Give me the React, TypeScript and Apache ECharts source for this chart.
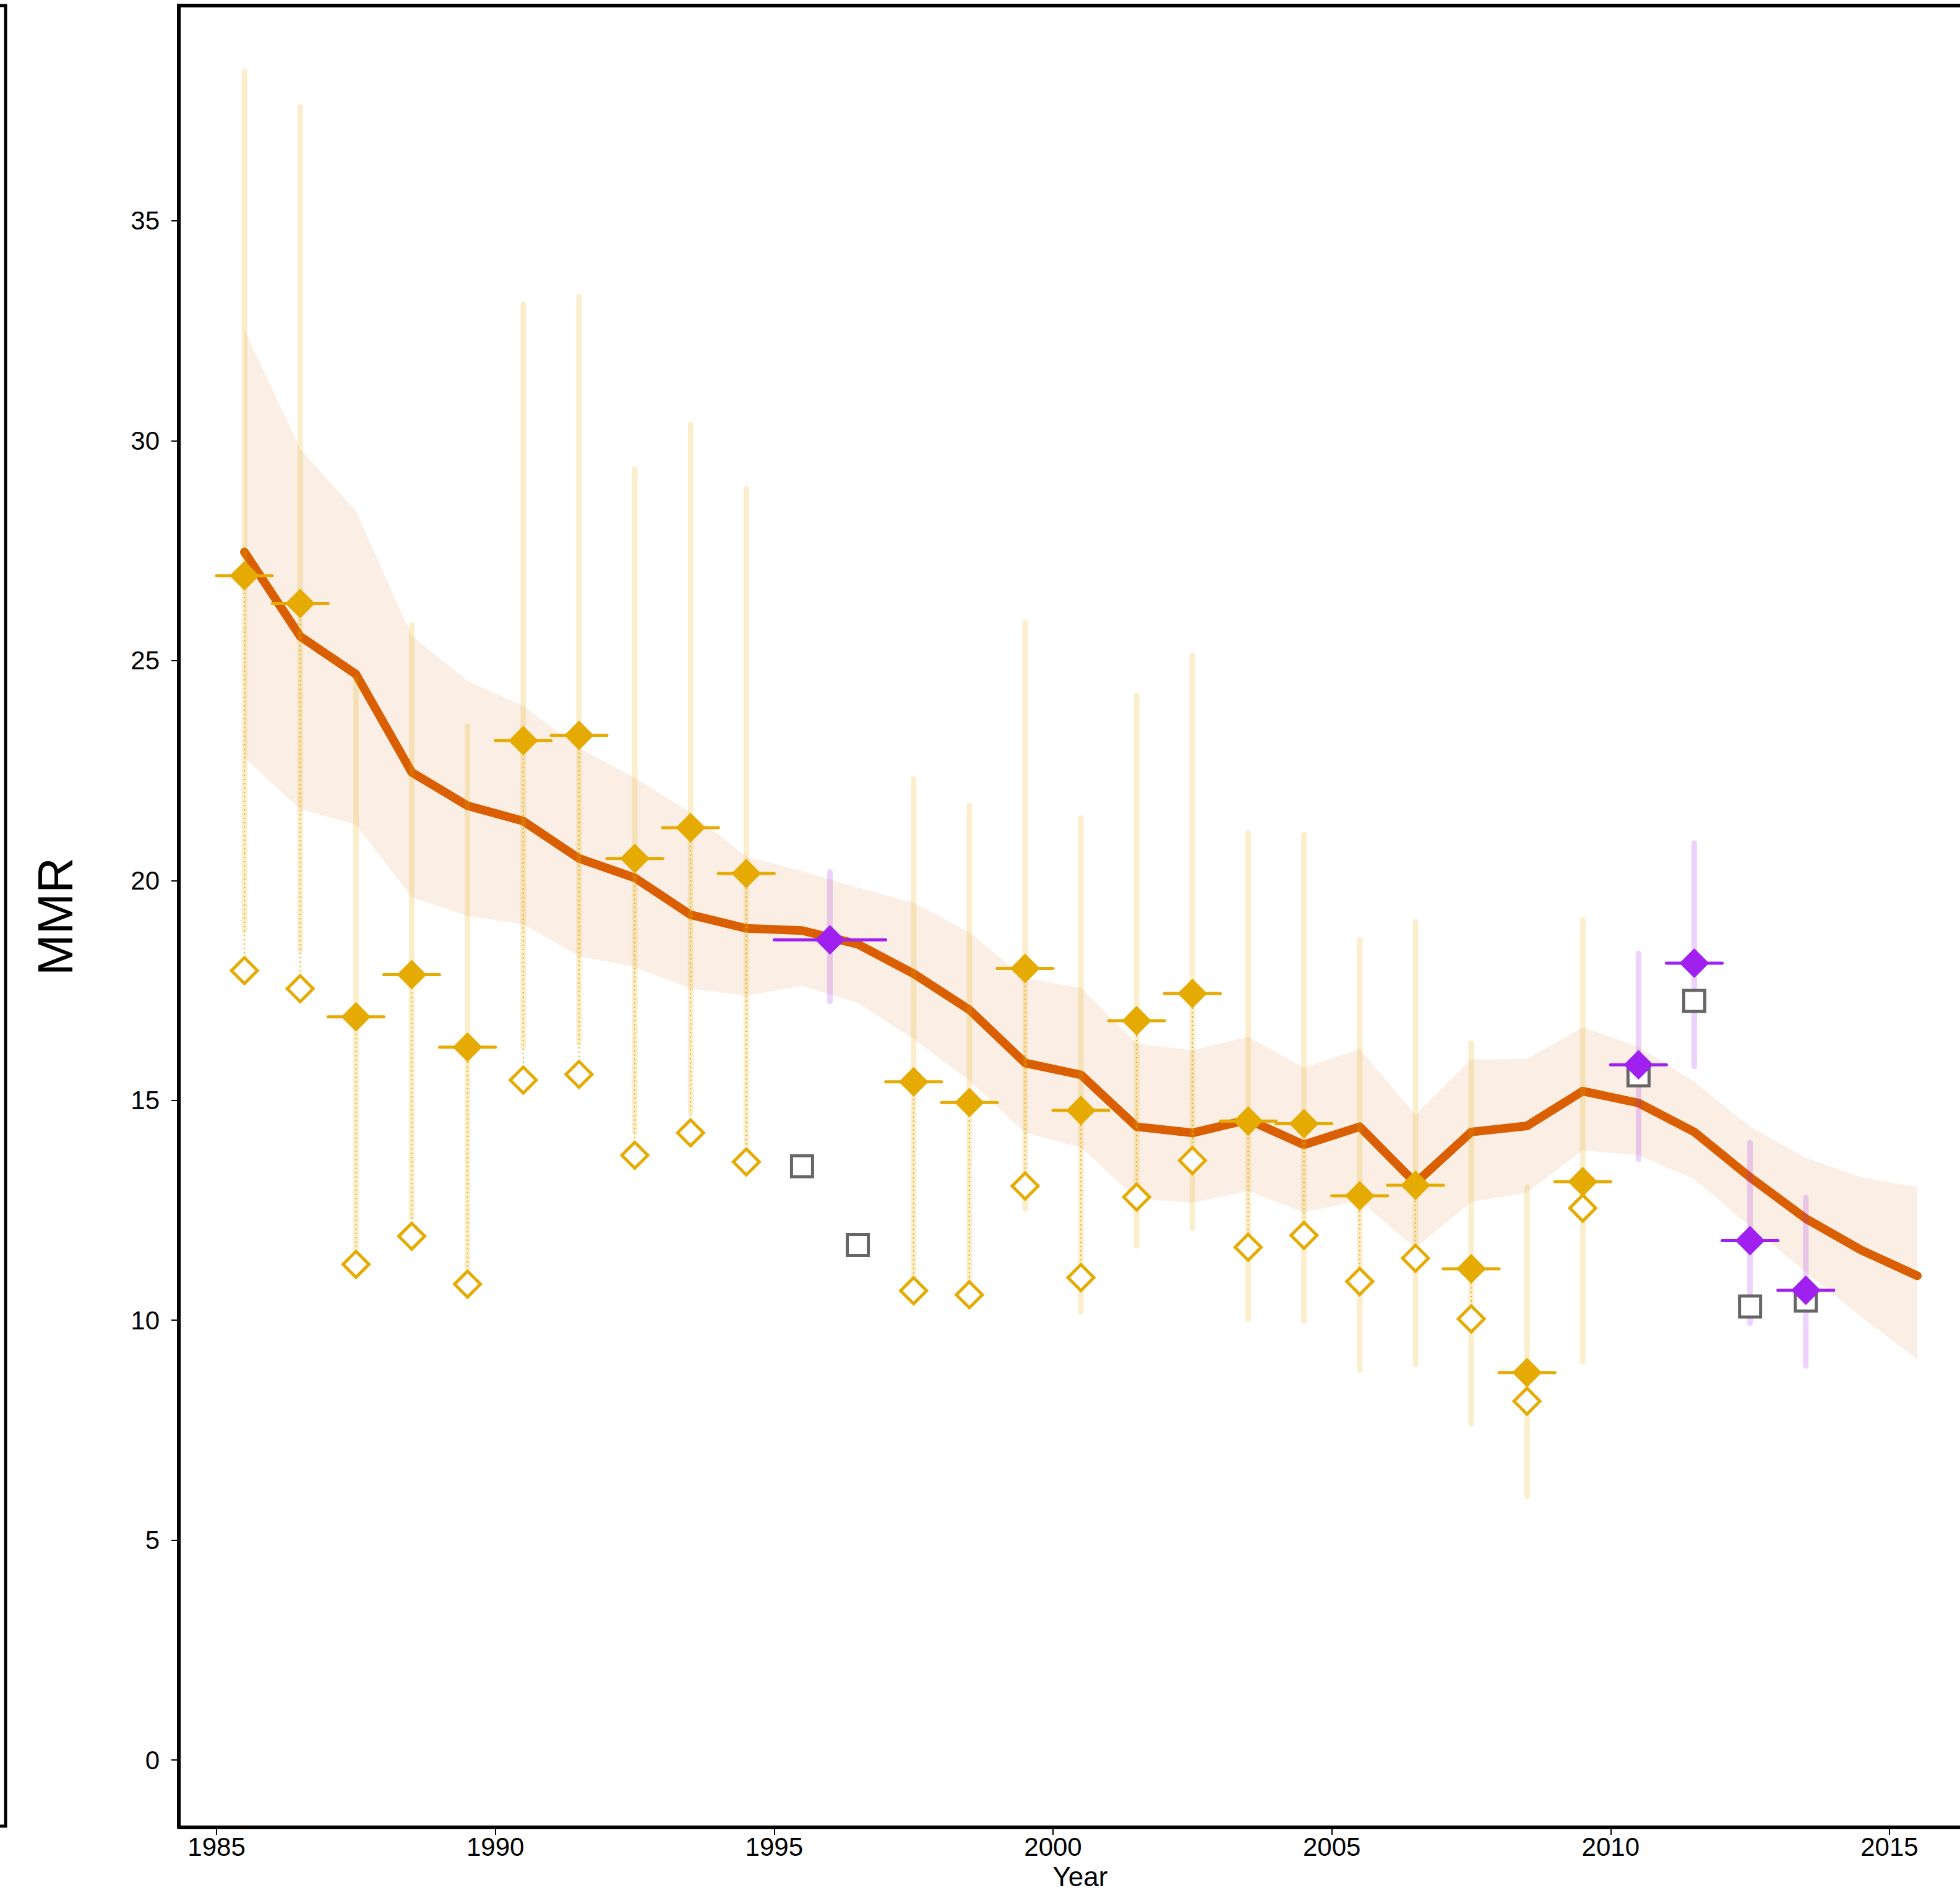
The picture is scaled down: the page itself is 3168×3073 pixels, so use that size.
import React, { useEffect, useRef } from "react";
import * as echarts from "echarts";

// ---------- data ----------
const xTickValues = [1985, 1990, 1995, 2000, 2005, 2010, 2015];
const yTickValues = [0, 5, 10, 15, 20, 25, 30, 35];

// model trend (median) and its uncertainty band
const trendYears = [
  1985.5, 1986.5, 1987.5, 1988.5, 1989.5, 1990.5, 1991.5, 1992.5, 1993.5, 1994.5,
  1995.5, 1996.5, 1997.5, 1998.5, 1999.5, 2000.5, 2001.5, 2002.5, 2003.5, 2004.5,
  2005.5, 2006.5, 2007.5, 2008.5, 2009.5, 2010.5, 2011.5, 2012.5, 2013.5, 2014.5, 2015.5,
];
const trendValues = [
  27.47, 25.55, 24.69, 22.46, 21.7, 21.35, 20.5, 20.06, 19.22, 18.91,
  18.86, 18.55, 17.88, 17.06, 15.85, 15.58, 14.4, 14.26, 14.56, 13.99,
  14.4, 13.12, 14.28, 14.42, 15.21, 14.94, 14.28, 13.25, 12.31, 11.59, 11.01,
];
const bandUpper = [
  32.52, 29.81, 28.4, 25.57, 24.54, 23.97, 23.01, 22.34, 21.54, 20.55,
  20.21, 19.84, 19.49, 18.82, 17.78, 17.56, 16.29, 16.14, 16.45, 15.74,
  16.17, 14.67, 15.93, 15.94, 16.66, 16.22, 15.42, 14.4, 13.69, 13.25, 13.03,
];
const bandLower = [
  22.79, 21.62, 21.27, 19.62, 19.19, 19.0, 18.28, 18.03, 17.54, 17.38,
  17.6, 17.22, 16.39, 15.45, 14.26, 13.93, 12.76, 12.67, 12.94, 12.45,
  12.72, 11.64, 12.69, 12.9, 13.86, 13.75, 13.21, 12.13, 11.1, 10.07, 9.11,
];

// gold observations (adjusted = filled diamond, observed = open diamond)
const goldYears = [
  1985.5, 1986.5, 1987.5, 1988.5, 1989.5, 1990.5, 1991.5, 1992.5, 1993.5, 1994.5,
  1997.5, 1998.5, 1999.5, 2000.5, 2001.5, 2002.5, 2003.5, 2004.5, 2005.5, 2006.5,
  2007.5, 2008.5, 2009.5,
];
const goldPeriodStart = [
  1985, 1986, 1987, 1988, 1989, 1990, 1991, 1992, 1993, 1994,
  1997, 1998, 1999, 2000, 2001, 2002, 2003, 2004, 2005, 2006,
  2007, 2008, 2009,
];
const goldPeriodEnd = [
  1986, 1987, 1988, 1989, 1990, 1991, 1992, 1993, 1994, 1995,
  1998, 1999, 2000, 2001, 2002, 2003, 2004, 2005, 2006, 2007,
  2008, 2009, 2010,
];
const goldAdjusted = [
  26.93, 26.3, 16.9, 17.86, 16.21, 23.18, 23.3, 20.5, 21.2, 20.16,
  15.42, 14.95, 18.0, 14.77, 16.81, 17.43, 14.53, 14.47, 12.83, 13.07,
  11.17, 8.81, 13.15,
];
const goldObserved = [
  17.95, 17.54, 11.27, 11.91, 10.82, 15.46, 15.59, 13.75, 14.26, 13.6,
  10.67, 10.58, 13.05, 10.97, 12.8, 13.63, 11.66, 11.93, 10.88, 11.41,
  10.03, 8.16, 12.55,
];
const goldUpper = [
  38.4, 37.6, 24.6, 25.81, 23.51, 33.1, 33.27, 29.36, 30.37, 28.91,
  22.31, 21.7, 25.86, 21.42, 24.21, 25.12, 21.08, 21.04, 18.64, 19.06,
  16.3, 13.03, 19.1,
];
const goldLower = [
  18.86, 18.41, 11.64, 12.34, 11.19, 16.22, 16.3, 14.28, 14.73, 14.02,
  10.95, 10.85, 12.53, 10.2, 11.69, 12.09, 10.03, 9.98, 8.86, 8.99,
  7.65, 5.99, 9.06,
];

// purple observations
const purpleYears = [1996, 2010.5, 2011.5, 2012.5, 2013.5];
const purplePeriodStart = [1995, 2010, 2011, 2012, 2013];
const purplePeriodEnd = [1997, 2011, 2012, 2013, 2014];
const purpleValues = [18.65, 15.81, 18.12, 11.81, 10.68];
const purpleUpper = [20.19, 18.34, 20.85, 14.04, 12.79];
const purpleLower = [17.25, 13.66, 15.77, 9.93, 8.96];

// grey squares
const greyYears = [1995.5, 1996.5, 2010.5, 2011.5, 2012.5, 2013.5];
const greyValues = [13.5, 11.71, 15.57, 17.26, 10.31, 10.45];

// ---------- styles ----------
const GOLD = "#E6AB02";
const GOLD_LIGHT = "rgba(230,171,2,0.2)";
const PURPLE = "#A020F0";
const PURPLE_LIGHT = "rgba(160,32,240,0.2)";
const TREND = "#D95F02";
const BAND = "rgba(217,95,2,0.1)";
const GREY = "#666666";
const FONT = "Liberation Sans, Arial, Helvetica, sans-serif";

function vbar(color: string, width: number, dash?: number[]) {
  return (params: any, api: any) => {
    const p1 = api.coord([api.value(0), api.value(1)]);
    const p2 = api.coord([api.value(0), api.value(2)]);
    const style: any = { stroke: color, lineWidth: width, lineCap: dash ? "butt" : "round" };
    if (dash) style.lineDash = dash;
    return { type: "line", shape: { x1: p1[0], y1: p1[1], x2: p2[0], y2: p2[1] }, style };
  };
}

function hbar(color: string, width: number) {
  return (params: any, api: any) => {
    const p1 = api.coord([api.value(0), api.value(2)]);
    const p2 = api.coord([api.value(1), api.value(2)]);
    return {
      type: "line",
      shape: { x1: p1[0], y1: p1[1], x2: p2[0], y2: p2[1] },
      style: { stroke: color, lineWidth: width, lineCap: "round" },
    };
  };
}

export default function App() {
  const ref = useRef<HTMLDivElement>(null);

  useEffect(() => {
    const chart = echarts.init(ref.current!, null, { renderer: "svg" });

    const bandRender = (params: any, api: any) => {
      if (params.dataIndex !== 0) return null;
      const pts: number[][] = [];
      for (let i = 0; i < trendYears.length; i++) pts.push(api.coord([trendYears[i], bandUpper[i]]));
      for (let i = trendYears.length - 1; i >= 0; i--) pts.push(api.coord([trendYears[i], bandLower[i]]));
      return { type: "polygon", shape: { points: pts }, style: { fill: BAND } };
    };

    const option: any = {
      animation: false,
      backgroundColor: "#ffffff",
      grid: { left: 289, right: 0, top: 9, bottom: 119, containLabel: false, show: false },
      xAxis: {
        type: "value",
        min: 1984.323,
        max: 2016.265,
        name: "Year",
        nameLocation: "middle",
        nameGap: 57,
        nameTextStyle: { fontSize: 44, color: "#000", fontFamily: FONT, padding: [0, 0, 0, 35] },
        splitLine: { show: false },
        axisLine: { show: true, onZero: false, lineStyle: { color: "#000", width: 6 } },
        axisTick: { show: true, length: 12, customValues: xTickValues, lineStyle: { color: "#000", width: 2 } },
        axisLabel: {
          customValues: xTickValues,
          formatter: (v: number) => String(Math.round(v)),
          fontSize: 42,
          color: "#000",
          fontFamily: FONT,
          margin: 10,
        },
      },
      yAxis: {
        type: "value",
        min: -1.533,
        max: 39.895,
        name: "MMR",
        nameLocation: "middle",
        nameRotate: 90,
        nameGap: 160,
        nameTextStyle: { fontSize: 80, color: "#000", fontFamily: FONT },
        splitLine: { show: false },
        axisLine: { show: true, onZero: false, lineStyle: { color: "#000", width: 6 } },
        axisTick: { show: true, length: 12, customValues: yTickValues, lineStyle: { color: "#000", width: 2 } },
        axisLabel: {
          customValues: yTickValues,
          formatter: (v: number) => String(Math.round(v)),
          fontSize: 42,
          color: "#000",
          fontFamily: FONT,
          margin: 31,
        },
      },
      graphic: [
        {
          type: "polyline",
          shape: { points: [[0, 9], [9, 9], [9, 2952], [0, 2952]] },
          style: { stroke: "#000", lineWidth: 5, fill: null },
          silent: true,
        },
        {
          type: "line",
          shape: { x1: 286, y1: 9, x2: 3168, y2: 9 },
          style: { stroke: "#000", lineWidth: 6 },
          silent: true,
        },
      ],
      series: [
        {
          type: "custom",
          name: "band",
          silent: true,
          renderItem: bandRender,
          encode: { x: 0, y: [1, 2] },
          data: trendYears.map((x, i) => [x, bandLower[i], bandUpper[i]]),
          z: 1,
        },
        {
          type: "line",
          name: "trend",
          silent: true,
          showSymbol: false,
          symbol: "none",
          data: trendYears.map((x, i) => [x, trendValues[i]]),
          lineStyle: { color: TREND, width: 14, cap: "round", join: "round" },
          z: 2,
        },
        {
          type: "custom",
          name: "goldRange",
          silent: true,
          renderItem: vbar(GOLD_LIGHT, 9),
          encode: { x: 0, y: [1, 2] },
          data: goldYears.map((x, i) => [x, goldLower[i], goldUpper[i]]),
          z: 3,
        },
        {
          type: "custom",
          name: "purpleRange",
          silent: true,
          renderItem: vbar(PURPLE_LIGHT, 9),
          encode: { x: 0, y: [1, 2] },
          data: purpleYears.map((x, i) => [x, purpleLower[i], purpleUpper[i]]),
          z: 3,
        },
        {
          type: "custom",
          name: "goldLink",
          silent: true,
          renderItem: vbar(GOLD, 2, [2, 5]),
          encode: { x: 0, y: [1, 2] },
          data: goldYears.map((x, i) => [x, goldObserved[i], goldAdjusted[i]]),
          z: 4,
        },
        {
          type: "scatter",
          name: "grey",
          silent: true,
          symbol: "rect",
          symbolSize: 34,
          itemStyle: { color: "#ffffff", borderColor: GREY, borderWidth: 5, opacity: 1 },
          data: greyYears.map((x, i) => [x, greyValues[i]]),
          z: 5,
        },
        {
          type: "custom",
          name: "goldPeriod",
          silent: true,
          renderItem: hbar(GOLD, 5),
          encode: { x: [0, 1], y: 2 },
          data: goldYears.map((x, i) => [goldPeriodStart[i], goldPeriodEnd[i], goldAdjusted[i]]),
          z: 6,
        },
        {
          type: "custom",
          name: "purplePeriod",
          silent: true,
          renderItem: hbar(PURPLE, 5),
          encode: { x: [0, 1], y: 2 },
          data: purpleYears.map((x, i) => [purplePeriodStart[i], purplePeriodEnd[i], purpleValues[i]]),
          z: 6,
        },
        {
          type: "scatter",
          name: "goldAdjusted",
          silent: true,
          symbol: "diamond",
          symbolSize: 48,
          itemStyle: { color: GOLD, opacity: 1 },
          data: goldYears.map((x, i) => [x, goldAdjusted[i]]),
          z: 7,
        },
        {
          type: "scatter",
          name: "purple",
          silent: true,
          symbol: "diamond",
          symbolSize: 48,
          itemStyle: { color: PURPLE, opacity: 1 },
          data: purpleYears.map((x, i) => [x, purpleValues[i]]),
          z: 7,
        },
        {
          type: "scatter",
          name: "goldObserved",
          silent: true,
          symbol: "diamond",
          symbolSize: 42,
          itemStyle: { color: "#ffffff", borderColor: GOLD, borderWidth: 5, opacity: 1 },
          data: goldYears.map((x, i) => [x, goldObserved[i]]),
          z: 8,
        },
      ],
    };

    chart.setOption(option);
    return () => chart.dispose();
  }, []);

  return (
    <div
      ref={ref}
      style={{ position: "absolute", left: 0, top: 0, width: 3168, height: 3073, background: "#ffffff" }}
    />
  );
}
